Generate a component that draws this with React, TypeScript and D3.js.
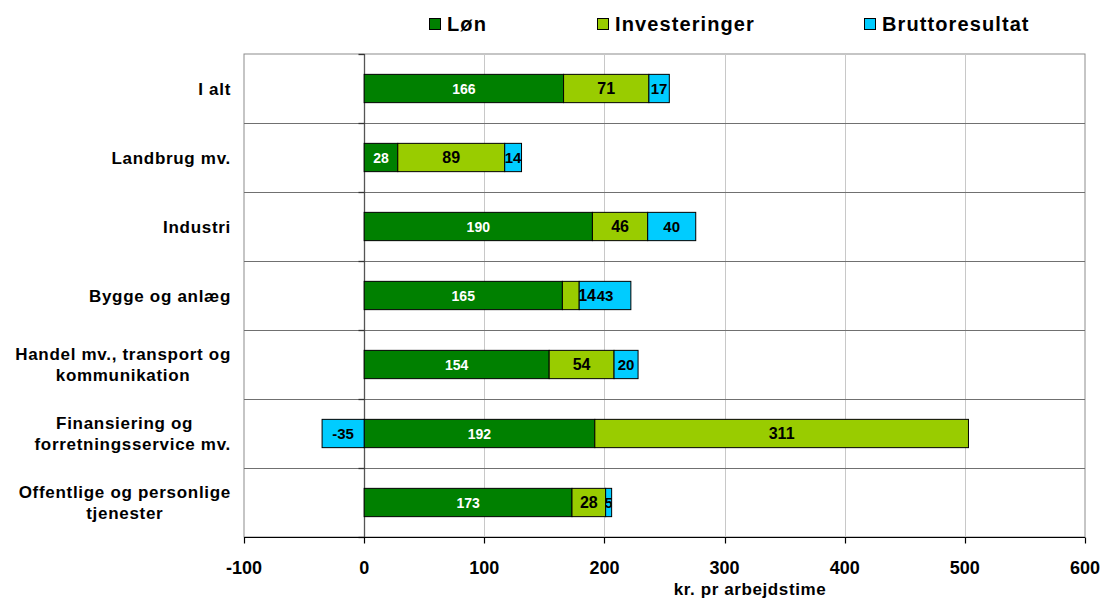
import React, { useEffect, useRef } from "react";
import * as d3 from "d3";

const categoryLines: string[][] = [
  ["I alt"],
  ["Landbrug mv."],
  ["Industri"],
  ["Bygge og anlæg"],
  ["Handel mv., transport og", "kommunikation"],
  ["Finansiering og   ", "forretningsservice mv."],
  ["Offentlige og personlige", "tjenester"],
];
const categories = categoryLines.map((l) => l.join(" ").trim());
const lon = [166, 28, 190, 165, 154, 192, 173];
const investeringer = [71, 89, 46, 14, 54, 311, 28];
const bruttoresultat = [17, 14, 40, 43, 20, -35, 5];
const seriesNames = ["Løn", "Investeringer", "Bruttoresultat"];
const seriesColors = ["#008000", "#99CC00", "#00CCFF"];
const xTicks = [-100, 0, 100, 200, 300, 400, 500, 600];
const xTitle = "kr. pr arbejdstime";

const FONT = "'Liberation Sans', Arial, sans-serif";

export default function App() {
  const ref = useRef<SVGSVGElement>(null);
  useEffect(() => {
    const svg = d3.select(ref.current);
    svg.selectAll("*").remove();
    const left = 244, right = 1085, top = 54, bottom = 537;
    const x = d3.scaleLinear().domain([-100, 600]).range([left, right]);
    const y = d3.scaleBand<string>().domain(categories).range([top, bottom]).paddingInner(0.59).paddingOuter(0.295);
    const step = y.step();

    const rows = categories.map((c, i) => ({ cat: c, "Løn": lon[i], "Investeringer": investeringer[i], "Bruttoresultat": bruttoresultat[i] }));
    const stacked = d3.stack<any>().keys(seriesNames).offset(d3.stackOffsetDiverging)(rows);

    const g = svg.append("g");
    g.append("rect").attr("x", left).attr("y", top).attr("width", right - left).attr("height", bottom - top)
      .attr("fill", "#fff").attr("stroke", "#8c8c8c").attr("stroke-width", 1);
    g.selectAll(".grid").data(xTicks.filter((t) => t !== -100 && t !== 600 && t !== 0)).join("line")
      .attr("x1", (d) => Math.round(x(d)) + 0.5).attr("x2", (d) => Math.round(x(d)) + 0.5)
      .attr("y1", top).attr("y2", bottom).attr("stroke", "#c8c8c8").attr("stroke-width", 1);
    const seps = d3.range(1, categories.length).map((i) => top + i * step);
    g.selectAll(".sep").data(seps).join("line")
      .attr("x1", left).attr("x2", right).attr("y1", (d) => Math.round(d) + 0.5).attr("y2", (d) => Math.round(d) + 0.5)
      .attr("stroke", "#707070").attr("stroke-width", 1);
    const x0 = Math.round(x(0)) + 0.5;
    g.append("line").attr("x1", x0).attr("x2", x0).attr("y1", top).attr("y2", bottom).attr("stroke", "#555").attr("stroke-width", 1.3);
    g.selectAll(".ztick").data([top, ...seps, bottom]).join("line")
      .attr("x1", x0 - 6).attr("x2", x0).attr("y1", (d) => Math.round(d) + 0.5).attr("y2", (d) => Math.round(d) + 0.5)
      .attr("stroke", "#333").attr("stroke-width", 1.3);

    stacked.forEach((layer, si) => {
      g.append("g").selectAll("rect").data(layer).join("rect")
        .attr("x", (d: any) => x(Math.min(d[0], d[1])))
        .attr("width", (d: any) => Math.abs(x(d[1]) - x(d[0])))
        .attr("y", (d: any) => y(d.data.cat)!)
        .attr("height", y.bandwidth())
        .attr("fill", seriesColors[si]).attr("stroke", "#000").attr("stroke-width", 1);
    });

    const defs = svg.append("defs");
    const labelSizes = [14, 16, 15];
    stacked.forEach((layer, si) => {
      layer.forEach((d: any, i: number) => {
        const x1 = x(Math.min(d[0], d[1])), x2 = x(Math.max(d[0], d[1]));
        const val = [lon, investeringer, bruttoresultat][si][i];
        const cy = y(d.data.cat)! + y.bandwidth() / 2;
        const t = g.append("text").attr("x", (x1 + x2) / 2).attr("y", cy).attr("dy", "0.36em")
          .attr("text-anchor", "middle").attr("font-family", FONT).attr("font-weight", "bold")
          .attr("font-size", labelSizes[si]).attr("fill", si === 0 ? "#fff" : "#000").text(String(val));
        const w = (t.node() as SVGTextElement).getComputedTextLength();
        if (w > x2 - x1 - 2) {
          if (si === 1) {
            t.attr("text-anchor", "start").attr("x", x2 - 1);
          } else {
            const id = `clip-${si}-${i}`;
            defs.append("clipPath").attr("id", id).append("rect")
              .attr("x", x1).attr("width", x2 - x1).attr("y", cy - 15).attr("height", 30);
            t.attr("clip-path", `url(#${id})`);
          }
        }
      });
    });

    const by = bottom + 0.5;
    g.append("line").attr("x1", left).attr("x2", right).attr("y1", by).attr("y2", by).attr("stroke", "#000").attr("stroke-width", 1.2);
    g.selectAll(".xt").data(xTicks).join("line")
      .attr("x1", (d) => Math.round(x(d)) + 0.5).attr("x2", (d) => Math.round(x(d)) + 0.5)
      .attr("y1", by).attr("y2", by + 6).attr("stroke", "#000").attr("stroke-width", 1.2);
    g.selectAll(".xl").data(xTicks).join("text")
      .attr("x", (d) => x(d)).attr("y", 574).attr("text-anchor", "middle")
      .attr("font-family", FONT).attr("font-weight", "bold").attr("font-size", 18).attr("fill", "#000")
      .text((d) => String(d));
    g.append("text").attr("x", 750).attr("y", 595).attr("text-anchor", "middle")
      .attr("font-family", FONT).attr("font-weight", "bold").attr("font-size", 17).attr("letter-spacing", 0.6).attr("fill", "#000")
      .text(xTitle);

    const lineH = 21;
    const labelRight = 231;
    categoryLines.forEach((lines, i) => {
      const cy = y(categories[i])! + y.bandwidth() / 2;
      const texts = lines.map((ln, k) =>
        g.append("text").attr("y", cy + (k - (lines.length - 1) / 2) * lineH).attr("dy", "0.36em")
          .attr("text-anchor", "middle").attr("font-family", FONT).attr("font-weight", "bold")
          .attr("font-size", 17).attr("letter-spacing", 0.7).attr("fill", "#000")
          .text(ln.replace(/ +$/, (m) => "\u00A0".repeat(m.length)))
      );
      const widths = texts.map((t) => (t.node() as SVGTextElement).getComputedTextLength());
      const bw = Math.max(...widths);
      const center = labelRight - bw / 2;
      texts.forEach((t) => t.attr("x", center));
    });

    const legendX = [429, 597, 864];
    seriesNames.forEach((name, si) => {
      g.append("rect").attr("x", legendX[si] + 0.5).attr("y", 18.5).attr("width", 11).attr("height", 11)
        .attr("fill", seriesColors[si]).attr("stroke", "#000").attr("stroke-width", 1);
      g.append("text").attr("x", legendX[si] + 18).attr("y", 24).attr("dy", "0.36em")
        .attr("font-family", FONT).attr("font-weight", "bold").attr("font-size", 20).attr("letter-spacing", 1.1).attr("fill", "#000")
        .text(name);
    });
  }, []);
  return (
    <svg ref={ref} width={1103} height={599} style={{ position: "absolute", left: 0, top: 0, background: "#fff" }} />
  );
}
